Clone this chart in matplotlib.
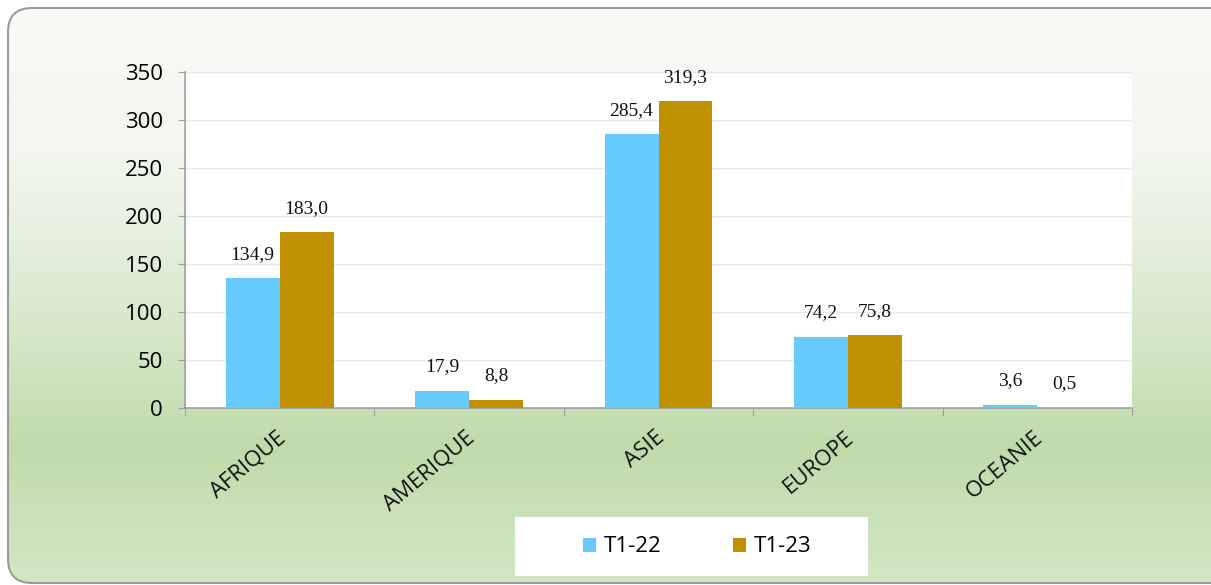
import matplotlib
matplotlib.use("Agg")
import matplotlib.pyplot as plt
import numpy as np
from matplotlib.patches import FancyBboxPatch, Rectangle
from matplotlib.colors import LinearSegmentedColormap

categories = ["AFRIQUE", "AMERIQUE", "ASIE", "EUROPE", "OCEANIE"]
t1_22 = [134.9, 17.9, 285.4, 74.2, 3.6]
t1_23 = [183.0, 8.8, 319.3, 75.8, 0.5]
series_names = ["T1-22", "T1-23"]
yticks = [0, 50, 100, 150, 200, 250, 300, 350]

W, H = 1211, 585
fig = plt.figure(figsize=(W / 100, H / 100), dpi=100)
fig.patch.set_facecolor("white")

# background rounded gradient panel
bg = fig.add_axes([0, 0, 1, 1], zorder=-10)
bg.set_xlim(0, W)
bg.set_ylim(H, 0)
bg.axis("off")
cmap = LinearSegmentedColormap.from_list(
    "g", [(0, "#F8FAF6"), (0.25, "#F3F7EF"), (0.42, "#E4EFDB"), (0.59, "#D2E6C4"),
          (0.76, "#BFDBAA"), (1.0, "#D3E7C6")])
grad = np.linspace(0, 1, 256).reshape(-1, 1)
im = bg.imshow(grad, cmap=cmap, aspect="auto", extent=[8, W + 30, 585, 8])
patch = FancyBboxPatch((8, 8), W + 20, 575, boxstyle="round,pad=0,rounding_size=24",
                       facecolor="none", edgecolor="#9A9A9A", linewidth=1.5)
bg.add_patch(patch)
im.set_clip_path(patch)
# legend box
bg.add_patch(Rectangle((515, 517), 353, 59, facecolor="white", edgecolor="none"))

ax = fig.add_axes([185 / W, 1 - 408 / H, (1132 - 185) / W, (408 - 72) / H])
ax.set_facecolor("white")
x = np.arange(len(categories))
bw = 0.285
c1, c2 = "#66CCFF", "#BF9000"
b1 = ax.bar(x - bw / 2, t1_22, bw, color=c1, label=series_names[0], zorder=3)
b2 = ax.bar(x + bw / 2, t1_23, bw, color=c2, label=series_names[1], zorder=3)

for bars, vals in ((b1, t1_22), (b2, t1_23)):
    for r, v in zip(bars, vals):
        ax.annotate(f"{v:.1f}".replace(".", ","), (r.get_x() + r.get_width() / 2, v),
                    xytext=(0, 11), textcoords="offset points", ha="center", va="bottom",
                    fontsize=14, family="Liberation Serif", color="#111111")

ax.set_xlim(-0.5, len(categories) - 0.5)
ax.set_ylim(0, 350)
ax.set_yticks(yticks)
ax.set_yticklabels([str(v) for v in yticks], fontsize=16, family="Open Sans")
ax.grid(axis="y", color="#E8E8E8", linewidth=1, zorder=0)
ax.set_axisbelow(True)
for s in ("top", "right"):
    ax.spines[s].set_visible(False)
for s in ("left", "bottom"):
    ax.spines[s].set_color("#A0A0A0")
    ax.spines[s].set_linewidth(1.2)
ax.tick_params(axis="y", length=5, color="#A0A0A0", pad=11)
ax.set_xticks(np.arange(-0.5, len(categories)), minor=False)
ax.set_xticklabels([])
ax.tick_params(axis="x", length=6, color="#A0A0A0")
for i, c in enumerate(categories):
    ax.text(i - 0.02, -20, c, rotation=40, rotation_mode="anchor", ha="right", va="top",
            fontsize=16, family="Open Sans", color="#111111", transform=ax.transData, clip_on=False)

leg = fig.legend(handles=[b1, b2], labels=series_names, loc="center",
                 bbox_to_anchor=(697 / W, 1 - 547 / H), ncol=2, frameon=False,
                 prop={"family": "Open Sans", "size": 16}, handlelength=0.6, handleheight=0.6,
                 columnspacing=3.2, handletextpad=0.35, borderaxespad=0)

fig.savefig("out.png", dpi=100)
